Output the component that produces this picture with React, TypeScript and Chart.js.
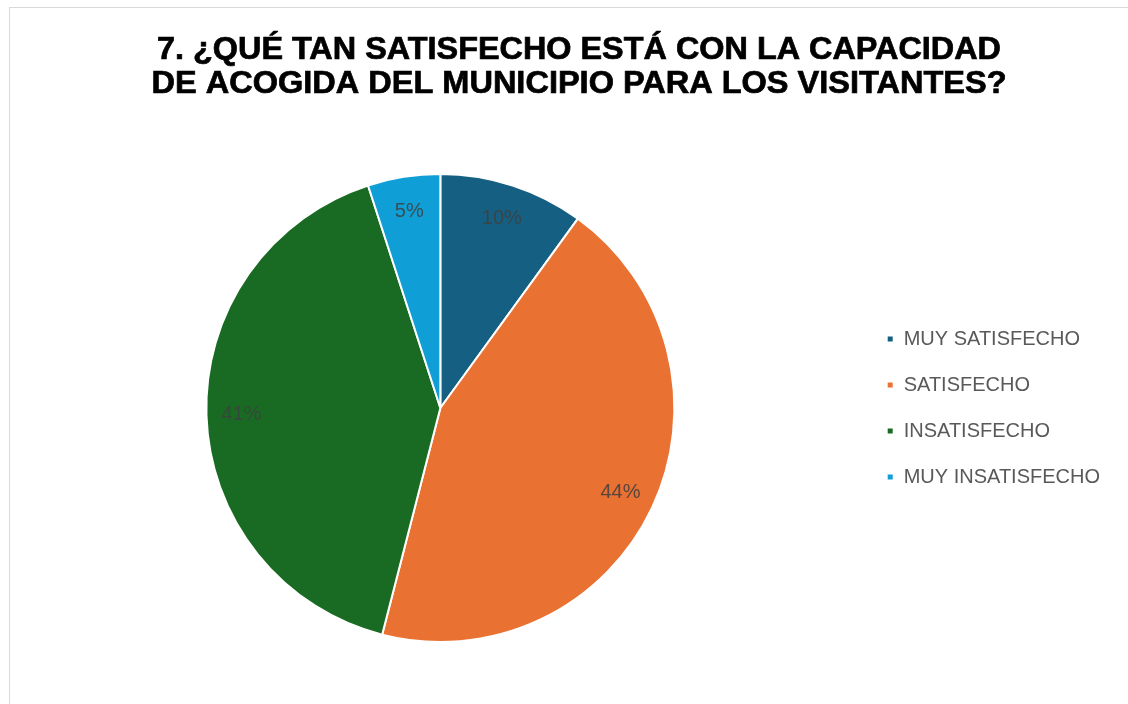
import React, { useEffect, useRef } from "react";
import { Chart, registerables } from "chart.js";

Chart.register(...registerables);

const titleLines = [
  "7. ¿QUÉ TAN SATISFECHO ESTÁ CON LA CAPACIDAD",
  "DE ACOGIDA DEL MUNICIPIO PARA LOS VISITANTES?",
];
const categories = ["MUY SATISFECHO", "SATISFECHO", "INSATISFECHO", "MUY INSATISFECHO"];
const percentages = [10, 44, 41, 5];
const colors = ["#156082", "#E97132", "#196B24", "#0F9ED5"];

const titleWidths = [844, 855];
const titleCentersY = [42, 76];
const titleCenterX = 569;

const customTitle = {
  id: "customTitle",
  afterDraw(chart: any) {
    const { ctx } = chart;
    ctx.save();
    ctx.font = "bold 31px 'Liberation Sans', Arial, sans-serif";
    ctx.fillStyle = "#000000";
    ctx.strokeStyle = "#000000";
    ctx.lineWidth = 0.7;
    ctx.textAlign = "center";
    ctx.textBaseline = "middle";
    titleLines.forEach((line, i) => {
      const w = ctx.measureText(line).width;
      const s = titleWidths[i] / w;
      ctx.save();
      ctx.translate(titleCenterX, titleCentersY[i]);
      ctx.scale(s, 1);
      ctx.fillText(line, 0, 0);
      ctx.strokeText(line, 0, 0);
      ctx.restore();
    });
    ctx.restore();
  },
};

const sliceLabels = {
  id: "sliceLabels",
  afterDatasetsDraw(chart: any) {
    const { ctx } = chart;
    const meta = chart.getDatasetMeta(0);
    ctx.save();
    ctx.font = "20px 'Liberation Sans', Arial, sans-serif";
    ctx.fillStyle = "rgba(64,64,64,0.85)";
    ctx.textAlign = "center";
    ctx.textBaseline = "middle";
    meta.data.forEach((arc: any, i: number) => {
      const { x, y, startAngle, endAngle, outerRadius } = arc.getProps(
        ["x", "y", "startAngle", "endAngle", "outerRadius"],
        true
      );
      const mid = (startAngle + endAngle) / 2;
      const r = outerRadius - 35;
      ctx.fillText(percentages[i] + "%", x + Math.cos(mid) * r, y + Math.sin(mid) * r);
    });
    ctx.restore();
  },
};

export default function App() {
  const ref = useRef<HTMLCanvasElement | null>(null);
  useEffect(() => {
    if (!ref.current) return;
    const chart = new Chart(ref.current, {
      type: "pie",
      data: {
        labels: categories,
        datasets: [
          {
            data: percentages,
            backgroundColor: colors,
            borderColor: "#ffffff",
            borderWidth: 2,
          },
        ],
      },
      options: {
        animation: false,
        responsive: true,
        maintainAspectRatio: false,
        layout: { padding: { left: 10, right: 18, bottom: 61, top: 165 } },
        plugins: {
          title: { display: false },
          legend: {
            display: true,
            position: "right",
            fullSize: false,
            labels: {
              boxWidth: 7,
              boxHeight: 7,
              padding: 26,
              color: "#595959",
              font: { family: "'Liberation Sans', Arial, sans-serif", size: 20 },
            },
          },
          tooltip: { enabled: false },
        },
      },
      plugins: [sliceLabels, customTitle],
    });
    return () => chart.destroy();
  }, []);
  return (
    <div
      style={{
        position: "absolute",
        left: 9,
        top: 7,
        width: 1140,
        height: 720,
        border: "1px solid #d9d9d9",
        background: "#ffffff",
        boxSizing: "border-box",
      }}
    >
      <div style={{ position: "absolute", left: 0, top: 0, width: 1118, height: 696 }}>
        <canvas ref={ref} />
      </div>
    </div>
  );
}
